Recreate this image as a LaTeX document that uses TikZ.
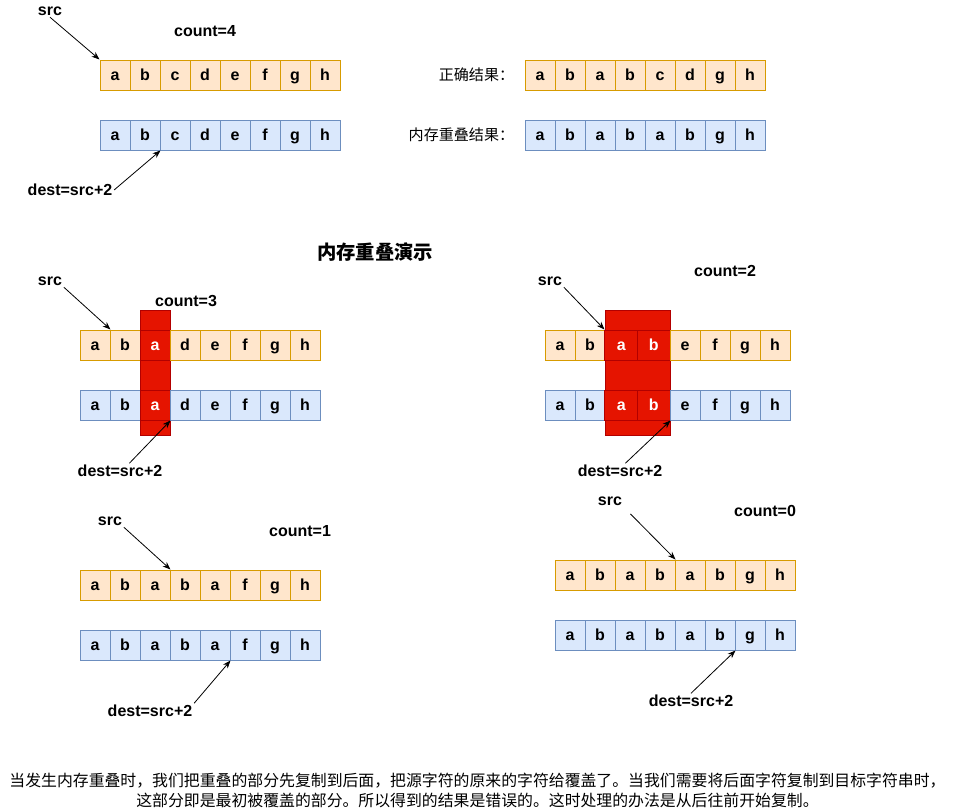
\documentclass[tikz,border=0pt]{standalone}
\usepackage{fontspec}
\setmainfont{Liberation Sans}
\newfontfamily\cjk{Noto Sans CJK SC}
\usepackage{tikz}
\usetikzlibrary{positioning,arrows.meta}

\definecolor{srcfill}{HTML}{FFE6CC}
\definecolor{srcline}{HTML}{D79B00}
\definecolor{dstfill}{HTML}{DAE8FC}
\definecolor{dstline}{HTML}{6C8EBF}
\definecolor{hotfill}{HTML}{E51400}
\definecolor{hotline}{HTML}{B20000}
\newcommand\lblfont{\fontsize{12}{14}\selectfont\bfseries}

\begin{document}
\begin{tikzpicture}[x=0.75pt, y=-0.75pt, line width=0.75pt,
                    srccell/.style={draw=srcline, fill=srcfill, minimum width=22.5pt,
                                    minimum height=22.5pt, inner sep=0pt, font=\lblfont,
                                    text height=8pt, text depth=0pt},
                    dstcell/.style={srccell, draw=dstline, fill=dstfill},
                    hotcell/.style={draw=hotline, fill=hotfill, text=white},
                    hotwide/.style={hotcell, minimum width=24.4pt},
                    coldcell/.style={},
                    hotbar/.style={draw=hotline, fill=hotfill, minimum height=93.75pt, inner sep=0pt},
                    lbl/.style={font=\lblfont, inner sep=1pt},
                    cjklbl/.style={font=\cjk\fontsize{11.3}{13}\selectfont, inner sep=1pt},
                    ptr/.style={-{Stealth[length=6pt,width=4.5pt]}, line width=0.6pt}]

  \fill[white] (0,0) rectangle (961,811);
  \useasboundingbox (0,0) rectangle (961,811);

  % top: source, destination and the two results
  \foreach \c [count=\i] in {a,b,c,d,e,f,g,h}
  {
    \node[srccell] (t-s\i) at ({85+30*\i},75) {\c};
    \node[dstcell] (t-d\i) at ({85+30*\i},135) {\c};
  }
  \foreach \c [count=\i] in {a,b,a,b,c,d,g,h}
    \node[srccell] (ok\i) at ({510+30*\i},75) {\c};
  \foreach \c [count=\i] in {a,b,a,b,a,b,g,h}
    \node[dstcell] (bad\i) at ({510+30*\i},135) {\c};

  \node[lbl] (t-src) at (50,11) {src};
  \node[lbl] (t-cnt) at (205,31) {count=4};
  \node[lbl] (t-dest) at (70,190) {dest=src+2};
  \node[cjklbl, anchor=east] (ok) at (516,75) {正确结果：};
  \node[cjklbl, anchor=east] (bad) at (516,135) {内存重叠结果：};
  \draw[ptr] (t-src.south) -- (t-s1.north west);
  \draw[ptr] (t-dest.east) -- (t-d2.south east);

  \node[font=\cjk\fontsize{14.5}{17}\selectfont\bfseries] (title) at (375,252) {内存重叠演示};

  % middle left: count=3
  \node[hotbar, minimum width=22.5pt] (m1-bar) at (155,372.5) {};
  \foreach \c/\k [count=\i] in {a/coldcell,b/coldcell,a/hotcell,d/coldcell,e/coldcell,f/coldcell,g/coldcell,h/coldcell}
  {
    \node[srccell,\k] (m1-s\i) at ({65+30*\i},345) {\c};
    \node[dstcell,\k] (m1-d\i) at ({65+30*\i},405) {\c};
  }
  \node[lbl] (m1-src) at (50,281) {src};
  \node[lbl] (m1-cnt) at (186,301) {count=3};
  \node[lbl] (m1-dest) at (120,471) {dest=src+2};
  \draw[ptr] (m1-src.south east) -- (m1-s1.north east);
  \draw[ptr] ([xshift=7pt]m1-dest.north) -- (m1-d3.south east);

  % middle right: count=2
  \node[hotbar, minimum width=48.75pt] (m2-bar) at (637.5,372.5) {};
  \foreach \c/\x/\k [count=\i] in {a/560/coldcell,b/590/coldcell,a/621.25/hotwide,b/653.75/hotwide,
                                   e/685/coldcell,f/715/coldcell,g/745/coldcell,h/775/coldcell}
  {
    \node[srccell,\k] (m2-s\i) at (\x,345) {\c};
    \node[dstcell,\k] (m2-d\i) at (\x,405) {\c};
  }
  \node[lbl] (m2-src) at (550,281) {src};
  \node[lbl] (m2-cnt) at (725,271) {count=2};
  \node[lbl] (m2-dest) at (620,471) {dest=src+2};
  \draw[ptr] (m2-src.south east) -- (m2-s3.north west);
  \draw[ptr] ([xshift=4pt]m2-dest.north) -- (m2-d4.south east);

  % bottom left: count=1
  \foreach \c [count=\i] in {a,b,a,b,a,f,g,h}
  {
    \node[srccell] (b1-s\i) at ({65+30*\i},585) {\c};
    \node[dstcell] (b1-d\i) at ({65+30*\i},645) {\c};
  }
  \node[lbl] (b1-src) at (110,521) {src};
  \node[lbl] (b1-cnt) at (300,531) {count=1};
  \node[lbl] (b1-dest) at (150,711) {dest=src+2};
  \draw[ptr] (b1-src.south east) -- (b1-s3.north east);
  \draw[ptr] (b1-dest.north east) -- (b1-d5.south east);

  % bottom right: count=0
  \foreach \c [count=\i] in {a,b,a,b,a,b,g,h}
  {
    \node[srccell] (b2-s\i) at ({540+30*\i},575) {\c};
    \node[dstcell] (b2-d\i) at ({540+30*\i},635) {\c};
  }
  \node[lbl] (b2-src) at (610,501) {src};
  \node[lbl] (b2-cnt) at (765,511) {count=0};
  \node[lbl] (b2-dest) at (691,701) {dest=src+2};
  \draw[ptr, shorten <=7pt] (b2-src.south east) -- (b2-s4.north east);
  \draw[ptr] (b2-dest.north) -- (b2-d6.south east);

  \node[align=center, font=\cjk\fontsize{11.9}{15}\selectfont, inner sep=0pt] (note) at (477.5,790)
    {当发生内存重叠时，我们把重叠的部分先复制到后面，把源字符的原来的字符给覆盖了。当我们需要将后面字符复制到目标字符串时，\\
     这部分即是最初被覆盖的部分。所以得到的结果是错误的。这时处理的办法是从后往前开始复制。};
\end{tikzpicture}
\end{document}
